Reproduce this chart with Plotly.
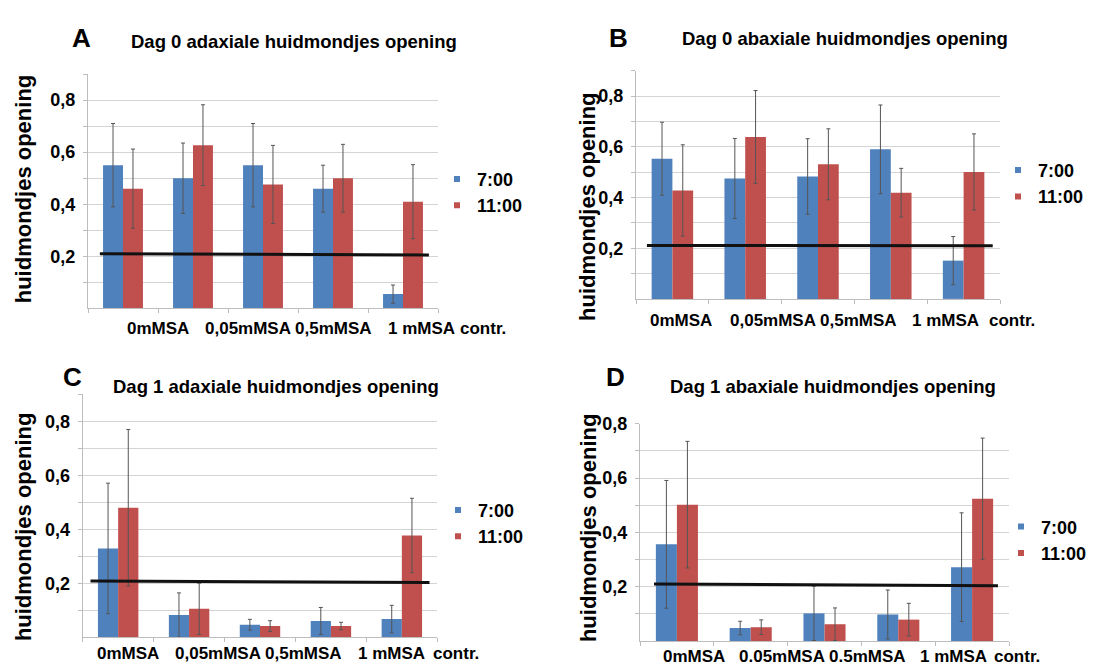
import plotly.graph_objects as go

# ---- data -------------------------------------------------------------
categories = ["0mMSA", "0,05mMSA", "0,5mMSA", "1 mMSA", "contr."]
categories_d = ["0mMSA", "0.05mMSA", "0.5mMSA", "1 mMSA", "contr."]
series_names = ["7:00", "11:00"]

# Dag 0 adaxiaal
a_700 = [0.55, 0.50, 0.55, 0.46, 0.055]
a_700_err = [0.16, 0.135, 0.16, 0.09, 0.035]
a_1100 = [0.46, 0.627, 0.476, 0.50, 0.41]
a_1100_err = [0.152, 0.155, 0.15, 0.13, 0.142]

# Dag 0 abaxiaal
b_700 = [0.553, 0.475, 0.483, 0.59, 0.151]
b_700_err = [0.144, 0.158, 0.149, 0.175, 0.095]
b_1100 = [0.428, 0.639, 0.531, 0.419, 0.501]
b_1100_err = [0.18, 0.183, 0.14, 0.096, 0.15]

# Dag 1 adaxiaal
c_700 = [0.329, 0.082, 0.046, 0.060, 0.067]
c_700_err = [0.242, 0.082, 0.02, 0.05, 0.051]
c_1100 = [0.480, 0.105, 0.041, 0.041, 0.377]
c_1100_err = [0.29, 0.095, 0.02, 0.014, 0.138]

# Dag 1 abaxiaal
d_700 = [0.356, 0.048, 0.102, 0.098, 0.272]
d_700_err = [0.235, 0.025, 0.10, 0.09, 0.20]
d_1100 = [0.502, 0.051, 0.062, 0.079, 0.524]
d_1100_err = [0.233, 0.027, 0.06, 0.06, 0.223]

# hand-drawn reference line (start / end value)
a_ref = [0.21, 0.205]
b_ref = [0.211, 0.210]
c_ref = [0.208, 0.203]
d_ref = [0.210, 0.204]

y_ticks = [0.1, 0.2, 0.3, 0.4, 0.5, 0.6, 0.7, 0.8, 0.9]
y_ticktext = ["", "0,2", "", "0,4", "", "0,6", "", "0,8", ""]

# ---- layout helpers -----------------------------------------------------
W, H = 1105, 666
FONT = "Liberation Sans, Arial, sans-serif"
BLUE = "#4F81BD"
RED = "#C0504D"
GRID = "#d4d4d4"
AXIS = "#bdbdbd"


def px_x(p):
    return p / W


def px_y(p):
    return 1 - p / H


panels = [
    dict(letter="A", title="Dag 0 adaxiale huidmondjes opening", cats=categories,
         s1=a_700, e1=a_700_err, s2=a_1100, e2=a_1100_err, ref=a_ref,
         box=(88, 65, 438, 303), ymax=0.9, ref_x=(-0.33, 4.37),
         lab_x=[0.50, 1.79, 3.01, 4.26, 5.14], lab_y=323,
         title_xy=(294, 32), letter_xy=(81, 28), ytitle_xy=(23, 182),
         legend_xy=(457, 185)),
    dict(letter="B", title="Dag 0 abaxiale huidmondjes opening", cats=categories,
         s1=b_700, e1=b_700_err, s2=b_1100, e2=b_1100_err, ref=b_ref,
         box=(636, 61.7, 1000, 293.3), ymax=0.9, ref_x=(-0.35, 4.40),
         lab_x=[0.118, 1.38, 2.56, 3.75, 4.66], lab_y=315,
         title_xy=(845, 29), letter_xy=(618, 28), ytitle_xy=(588, 200),
         legend_xy=(1018, 176)),
    dict(letter="C", title="Dag 1 adaxiale huidmondjes opening", cats=categories,
         s1=c_700, e1=c_700_err, s2=c_1100, e2=c_1100_err, ref=c_ref,
         box=(82.7, 390.3, 437.3, 636.7), ymax=0.9, ref_x=(-0.39, 4.39),
         lab_x=[0.139, 1.41, 2.62, 3.85, 4.76], lab_y=653,
         title_xy=(276, 382), letter_xy=(72, 373), ytitle_xy=(23, 525),
         legend_xy=(458, 521)),
    dict(letter="D", title="Dag 1 abaxiale huidmondjes opening", cats=categories_d,
         s1=d_700, e1=d_700_err, s2=d_1100, e2=d_1100_err, ref=d_ref,
         box=(640, 420, 1009, 640.7), ymax=0.8, ref_x=(-0.31, 4.35),
         lab_x=[0.232, 1.43, 2.58, 3.75, 4.61], lab_y=656,
         title_xy=(833, 382), letter_xy=(615, 373), ytitle_xy=(588, 526),
         legend_xy=(1021, 538)),
]

fig = go.Figure()
annotations = []
layout = dict(
    width=W, height=H, margin=dict(l=0, r=0, t=0, b=0),
    paper_bgcolor="white", plot_bgcolor="white",
    barmode="group", bargap=0.43, bargroupgap=0,
    font=dict(family=FONT, color="black"),
)

for i, p in enumerate(panels):
    n = "" if i == 0 else str(i + 1)
    xa, ya = "x" + n, "y" + n
    leg = "legend" + n
    xpos = list(range(len(p["cats"])))

    for vals, errs, color, name in ((p["s1"], p["e1"], BLUE, series_names[0]),
                                    (p["s2"], p["e2"], RED, series_names[1])):
        fig.add_trace(go.Bar(
            x=xpos, y=vals, name=name, xaxis=xa, yaxis=ya,
            marker=dict(color=color, line=dict(width=0)),
            error_y=dict(type="data", array=errs, visible=True,
                         color="#555555", thickness=1, width=2),
            showlegend=False,
        ))
        # small square swatch for the legend
        fig.add_trace(go.Scatter(
            x=[None], y=[None], mode="markers", name=name, xaxis=xa, yaxis=ya,
            marker=dict(symbol="square", size=6, color=color),
            legend=leg, showlegend=True,
        ))

    fig.add_trace(go.Scatter(
        x=list(p["ref_x"]), y=p["ref"], mode="lines", xaxis=xa, yaxis=ya,
        line=dict(color="#111111", width=3), showlegend=False,
        hoverinfo="skip",
    ))

    x0, y0, x1, y1 = p["box"]
    layout["xaxis" + n] = dict(
        domain=[px_x(x0), px_x(x1)], anchor=ya, range=[-0.5, 4.5],
        showgrid=False, zeroline=False, showline=True, linecolor=AXIS,
        tickvals=[-0.5, 0.5, 1.5, 2.5, 3.5, 4.5], ticks="outside",
        ticklen=4, tickcolor=AXIS, showticklabels=False, fixedrange=True,
    )
    nt = sum(1 for t in y_ticks if t <= p["ymax"] + 1e-9)
    layout["yaxis" + n] = dict(
        domain=[px_y(y1), px_y(y0)], anchor=xa, range=[0, p["ymax"]],
        tickvals=y_ticks[:nt], ticktext=y_ticktext[:nt],
        showgrid=True, gridcolor=GRID, gridwidth=1, zeroline=False,
        showline=True, linecolor=AXIS, ticks="outside", ticklen=4,
        tickcolor=AXIS, ticklabelstandoff=4,
        tickfont=dict(family=FONT, size=18, weight="bold", color="black"),
        fixedrange=True,
    )
    lx, ly = p["legend_xy"]
    layout[leg] = dict(
        x=px_x(lx - 20), y=px_y(ly), xanchor="left", yanchor="middle",
        bgcolor="rgba(0,0,0,0)", borderwidth=0,
        font=dict(family=FONT, size=18, weight="bold", color="black"),
        itemwidth=30,
    )

    # category labels, placed along the axis in category units
    span = px_x(x1) - px_x(x0)
    for cat, lxv in zip(p["cats"], p["lab_x"]):
        annotations.append(dict(
            text=cat, x=px_x(x0) + (lxv + 0.5) / 5 * span, xref="paper",
            y=px_y(p["lab_y"]), yref="paper",
            showarrow=False, xanchor="center", yanchor="middle",
            font=dict(family=FONT, size=17, weight="bold", color="black"),
        ))
    # titles
    tx, ty = p["title_xy"]
    annotations.append(dict(
        text=p["title"], x=px_x(tx), y=px_y(ty), xref="paper", yref="paper",
        showarrow=False, xanchor="center", yanchor="middle",
        font=dict(family=FONT, size=18.5, weight="bold", color="black"),
    ))
    cx, cy = p["letter_xy"]
    annotations.append(dict(
        text=p["letter"], x=px_x(cx), y=px_y(cy), xref="paper", yref="paper",
        showarrow=False, xanchor="center", yanchor="middle",
        font=dict(family=FONT, size=26, weight="bold", color="black"),
    ))
    vx, vy = p["ytitle_xy"]
    annotations.append(dict(
        text="huidmondjes opening", x=px_x(vx), y=px_y(vy), xref="paper",
        yref="paper", showarrow=False, textangle=-90,
        xanchor="center", yanchor="middle",
        font=dict(family=FONT, size=22, weight="bold", color="black"),
    ))

layout["annotations"] = annotations
fig.update_layout(**layout)
fig.write_html("out.html")
